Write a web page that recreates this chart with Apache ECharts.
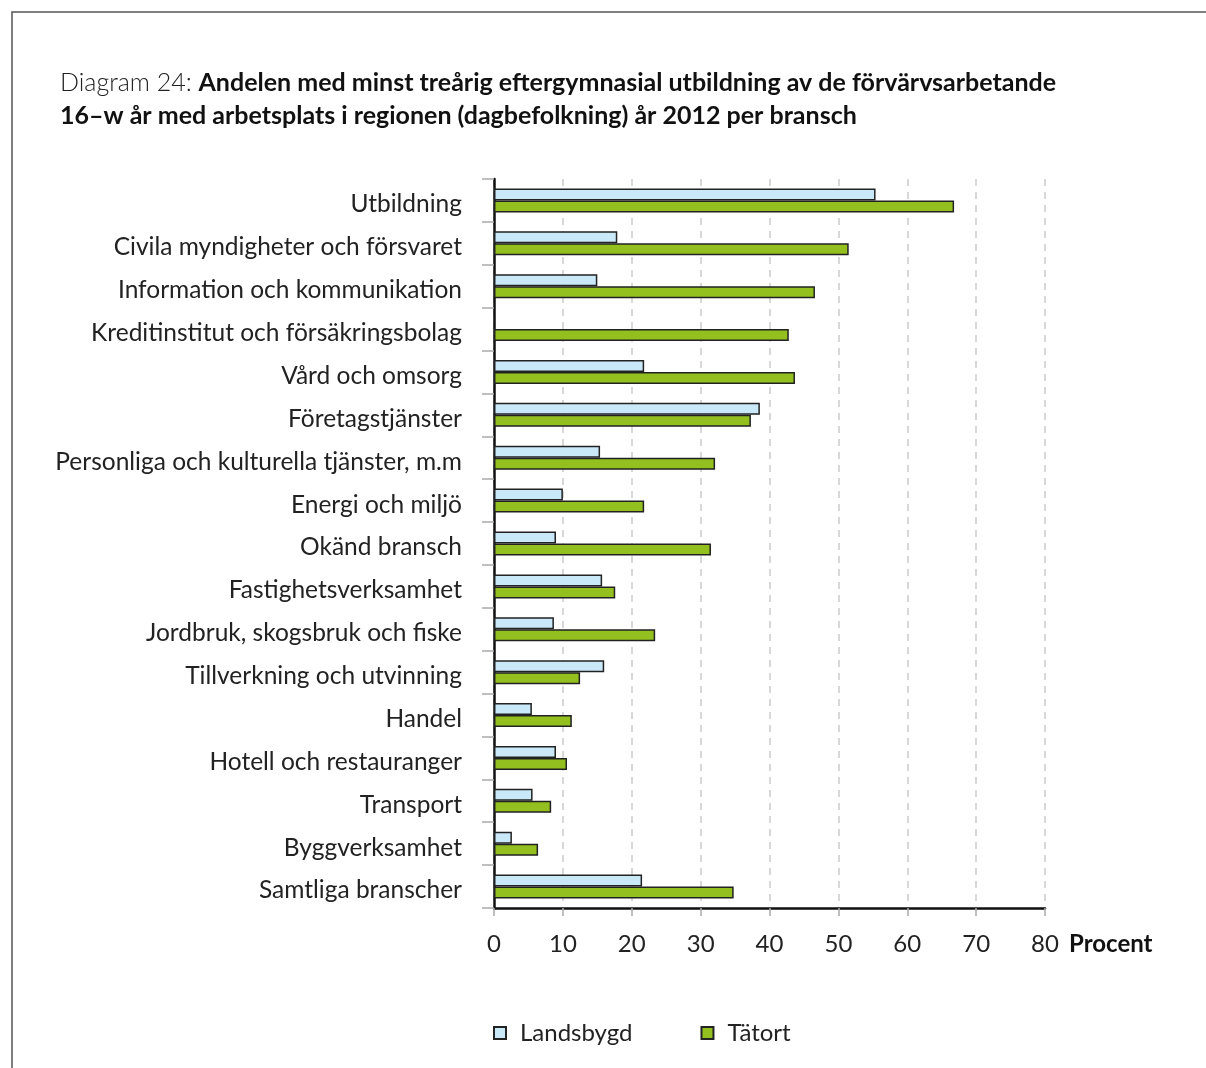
<!DOCTYPE html>
<html>
<head>
<meta charset="utf-8">
<script src="https://cdn.jsdelivr.net/npm/echarts@6/dist/echarts.min.js"></script>
<style>
  html, body { margin: 0; padding: 0; background: #fff; }
  #chart { width: 1206px; height: 1068px; }
</style>
</head>
<body>
<div id="chart"></div>
<script>
// branscher, uppifrån och ned
var categories = [
  'Utbildning',
  'Civila myndigheter och försvaret',
  'Information och kommunikation',
  'Kreditinstitut och försäkringsbolag',
  'Vård och omsorg',
  'Företagstjänster',
  'Personliga och kulturella tjänster, m.m',
  'Energi och miljö',
  'Okänd bransch',
  'Fastighetsverksamhet',
  'Jordbruk, skogsbruk och fiske',
  'Tillverkning och utvinning',
  'Handel',
  'Hotell och restauranger',
  'Transport',
  'Byggverksamhet',
  'Samtliga branscher'
];
var landsbygd = [55.4, 17.9, 15.0, null, 21.8, 38.6, 15.4, 10.0, 9.0, 15.7, 8.7, 16.0, 5.5, 9.0, 5.6, 2.6, 21.5];
var tatort = [66.8, 51.5, 46.6, 42.8, 43.7, 37.3, 32.1, 21.8, 31.5, 17.6, 23.4, 12.5, 11.3, 10.6, 8.3, 6.4, 34.8];
var xTicks = [0, 10, 20, 30, 40, 50, 60, 70, 80];

var font = 'Lato, "Open Sans", sans-serif';
var chart = echarts.init(document.getElementById('chart'));

chart.setOption({
  backgroundColor: '#fff',
  textStyle: { fontFamily: font },
  title: {
    left: 55,
    top: 61,
    text: '{n|Diagram 24: }{b|Andelen med minst treårig eftergymnasial utbildning av de förvärvsarbetande}\n{b|16–w år med arbetsplats i regionen (dagbefolkning) år 2012 per bransch}',
    textStyle: {
      rich: {
        n: { fontSize: 25, fontWeight: 300, color: '#222', fontFamily: font, lineHeight: 33 },
        b: { fontSize: 25, fontWeight: 'bold', color: '#111', fontFamily: font, lineHeight: 33 }
      }
    }
  },
  graphic: [{
    type: 'polyline',
    shape: { points: [[12, 1068], [12, 12], [1206, 12]] },
    style: { stroke: '#555', lineWidth: 1.5, fill: null }
  }, {
    // axelnamn i höjd med skalans etiketter
    type: 'text',
    left: 1069,
    top: 932,
    style: { text: 'Procent', fontSize: 24, fontWeight: 'bold', fill: '#111', fontFamily: font }
  }],
  legend: {
    left: 488,
    top: 1016,
    itemWidth: 12,
    itemHeight: 12,
    itemGap: 68,
    textStyle: { fontSize: 24, color: '#222', fontFamily: font, padding: [0, 0, 0, 9] },
    data: [
      { name: 'Landsbygd', icon: 'rect' },
      { name: 'Tätort', icon: 'rect' }
    ]
  },
  grid: {
    left: 494,
    right: 161,
    top: 179,
    bottom: 160,
    containLabel: false
  },
  xAxis: {
    type: 'value',
    min: xTicks[0],
    max: xTicks[xTicks.length - 1],
    interval: 10,
    axisLine: { show: true, lineStyle: { color: '#111', width: 2.5 } },
    axisTick: { show: true, length: 8, lineStyle: { color: '#aaa', width: 1.5 } },
    axisLabel: { fontSize: 24, color: '#222', margin: 24 },
    splitLine: {
      show: true,
      lineStyle: { color: '#ccc', width: 1.5, type: [7, 6] }
    }
  },
  yAxis: {
    type: 'category',
    inverse: true,
    data: categories,
    axisLine: { show: true, lineStyle: { color: '#111', width: 2.5 } },
    axisTick: { show: true, length: 12, interval: 0, lineStyle: { color: '#aaa', width: 1.5 } },
    axisLabel: {
      color: '#222',
      margin: 32,
      interval: 0,
      formatter: function (v) { return '{c|' + v + '}'; },
      rich: {
        c: { fontSize: 24.5, color: '#222', fontFamily: font, padding: [8, 0, 0, 0] }
      }
    },
    splitLine: { show: false }
  },
  series: [{
    name: 'Landsbygd',
    type: 'bar',
    data: landsbygd,
    barWidth: 12,
    barGap: '0%',
    itemStyle: { color: '#c9e8f8', borderColor: '#222', borderWidth: 1.5 }
  }, {
    name: 'Tätort',
    type: 'bar',
    data: tatort,
    barWidth: 12,
    barGap: '0%',
    itemStyle: { color: '#93c01f', borderColor: '#222', borderWidth: 1.5 }
  }]
});
</script>
</body>
</html>
